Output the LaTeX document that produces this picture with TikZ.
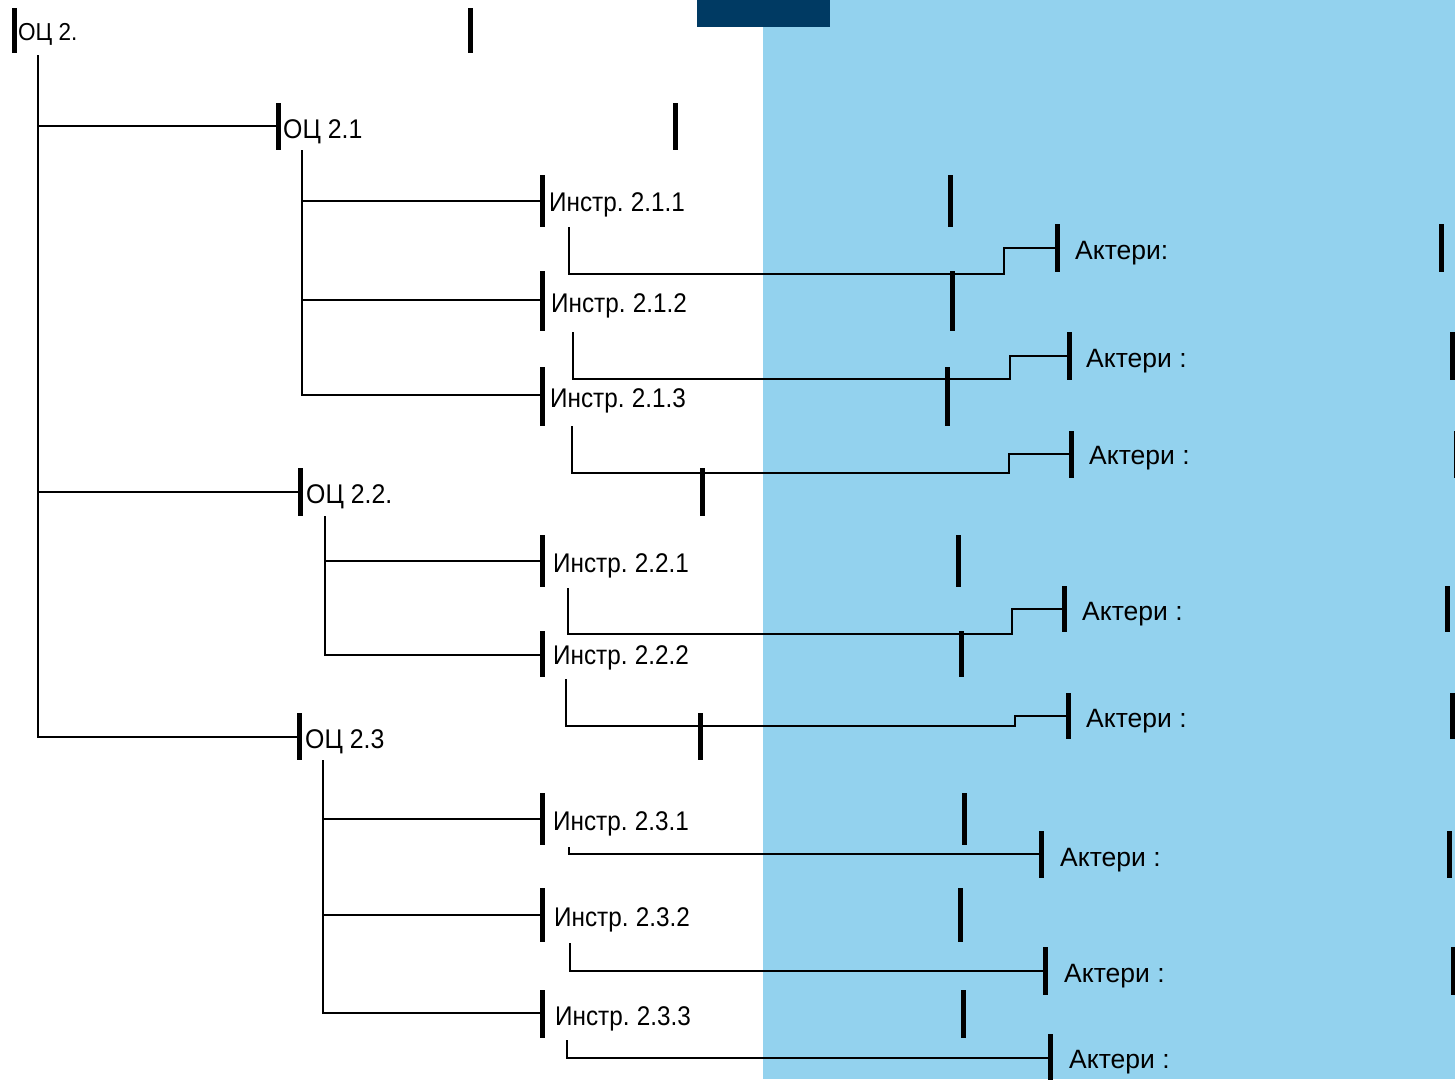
\documentclass[tikz,border=0pt]{standalone}
\usepackage{fontspec}
\setmainfont{Liberation Sans}
\newfontfamily\narrowf{Liberation Sans}[FakeStretch=0.9, WordSpace=0.75]
\newfontfamily\ocf{Liberation Sans}[FakeStretch=0.92]
\definecolor{skyfill}{RGB}{147,210,238}
\definecolor{navyfill}{RGB}{0,58,99}
\tikzset{
  thinline/.style={line width=2pt, black},
  barline/.style={line width=5pt, black, line cap=butt},
  octext/.style={font=\ocf\fontsize{27}{31}\selectfont, inner sep=0pt},
  octop/.style={font=\ocf\fontsize{24.5}{28}\selectfont, inner sep=0pt},
  intext/.style={font=\narrowf\fontsize{27}{31}\selectfont, inner sep=0pt},
  actext/.style={font=\fontsize{26.5}{30}\selectfont, inner sep=0pt},
}
% name, xleft, xright, ytop, ybottom, textx, baseline, style, text
\newcommand\lblbox[9]{%
  \draw[barline] (#2,#4) -- (#2,#5);
  \draw[barline] (#3,#4) -- (#3,#5);
  \node[#8, anchor=base west] (#1) at (#6,#7) {#9};
}
\begin{document}
\begin{tikzpicture}[x=1pt,y=-1pt]
\useasboundingbox (0,0) rectangle (1455,1079);
\clip (0,0) rectangle (1455,1079);
\fill[white] (0,0) rectangle (763,1079);
\fill[skyfill] (763,0) rectangle (1455,1079);
\fill[navyfill] (697,0) rectangle (830,27);

% labels
\lblbox{oc2}{14}{470}{8}{53}{18}{40}{octop}{ОЦ 2.}
\lblbox{oc21}{278}{675}{103}{150}{283}{138}{octext}{ОЦ 2.1}
\lblbox{i211}{542}{950}{175}{227}{549}{211}{intext}{Инстр. 2.1.1}
\lblbox{i212}{542}{952}{271}{331}{551}{312}{intext}{Инстр. 2.1.2}
\lblbox{i213}{542}{947}{367}{426}{550}{407}{intext}{Инстр. 2.1.3}
\lblbox{a1}{1057}{1441}{224}{272}{1075}{259}{actext}{Актери:}
\lblbox{a2}{1069}{1452}{332}{380}{1086}{367}{actext}{Актери :}
\lblbox{a3}{1071}{1456}{431}{478}{1089}{464}{actext}{Актери :}
\lblbox{oc22}{300}{702}{468}{516}{306}{503}{octext}{ОЦ 2.2.}
\lblbox{i221}{542}{958}{535}{587}{553}{572}{intext}{Инстр. 2.2.1}
\lblbox{i222}{542}{961}{631}{677}{553}{664}{intext}{Инстр. 2.2.2}
\lblbox{a4}{1064}{1447}{586}{632}{1082}{620}{actext}{Актери :}
\lblbox{a5}{1068}{1452}{693}{739}{1086}{727}{actext}{Актери :}
\lblbox{oc23}{299}{700}{713}{760}{305}{748}{octext}{ОЦ 2.3}
\lblbox{i231}{542}{964}{793}{845}{553}{830}{intext}{Инстр. 2.3.1}
\lblbox{i232}{542}{960}{888}{942}{554}{926}{intext}{Инстр. 2.3.2}
\lblbox{i233}{542}{963}{990}{1038}{555}{1025}{intext}{Инстр. 2.3.3}
\lblbox{a6}{1041}{1449}{831}{878}{1060}{866}{actext}{Актери :}
\lblbox{a7}{1045}{1453}{947}{995}{1064}{982}{actext}{Актери :}
\lblbox{a8}{1050}{1470}{1034}{1082}{1069}{1068}{actext}{Актери :}

% tree connectors
\coordinate (t0) at (38,55);
\coordinate (oc21in) at (278,126);
\coordinate (oc22in) at (300,492);
\coordinate (oc23in) at (299,737);
\draw[thinline] (t0) |- (oc23in);
\draw[thinline] (38,126) -- (oc21in);
\draw[thinline] (38,492) -- (oc22in);

\coordinate (oc21out) at (302,150);
\coordinate (i211in) at (542,201);
\coordinate (i212in) at (542,300);
\coordinate (i213in) at (542,395);
\draw[thinline] (oc21out) |- (i213in);
\draw[thinline] (302,201) -- (i211in);
\draw[thinline] (302,300) -- (i212in);

\coordinate (oc22out) at (325,516);
\coordinate (i221in) at (542,561);
\coordinate (i222in) at (542,655);
\draw[thinline] (oc22out) |- (i222in);
\draw[thinline] (325,561) -- (i221in);

\coordinate (oc23out) at (323,760);
\coordinate (i231in) at (542,819);
\coordinate (i232in) at (542,915);
\coordinate (i233in) at (542,1013);
\draw[thinline] (oc23out) |- (i233in);
\draw[thinline] (323,819) -- (i231in);
\draw[thinline] (323,915) -- (i232in);

% instrument -> actors connectors
\coordinate (i211out) at (569,227);
\coordinate (a1in) at (1057,248);
\draw[thinline] (i211out) -- (569,274) -- (1004,274) -- (1004,248) -- (a1in);
\coordinate (i212out) at (573,332);
\coordinate (a2in) at (1069,356);
\draw[thinline] (i212out) -- (573,379) -- (1010,379) -- (1010,356) -- (a2in);
\coordinate (i213out) at (572,426);
\coordinate (a3in) at (1071,454);
\draw[thinline] (i213out) -- (572,473) -- (1009,473) -- (1009,454) -- (a3in);
\coordinate (i221out) at (568,588);
\coordinate (a4in) at (1064,609);
\draw[thinline] (i221out) -- (568,634) -- (1012,634) -- (1012,609) -- (a4in);
\coordinate (i222out) at (566,679);
\coordinate (a5in) at (1068,716);
\draw[thinline] (i222out) -- (566,726) -- (1015,726) -- (1015,716) -- (a5in);
\coordinate (i231out) at (569,847);
\coordinate (a6in) at (1041,854);
\draw[thinline] (i231out) |- (a6in);
\coordinate (i232out) at (570,943);
\coordinate (a7in) at (1045,971);
\draw[thinline] (i232out) |- (a7in);
\coordinate (i233out) at (567,1040);
\coordinate (a8in) at (1050,1058);
\draw[thinline] (i233out) |- (a8in);
\end{tikzpicture}
\end{document}
